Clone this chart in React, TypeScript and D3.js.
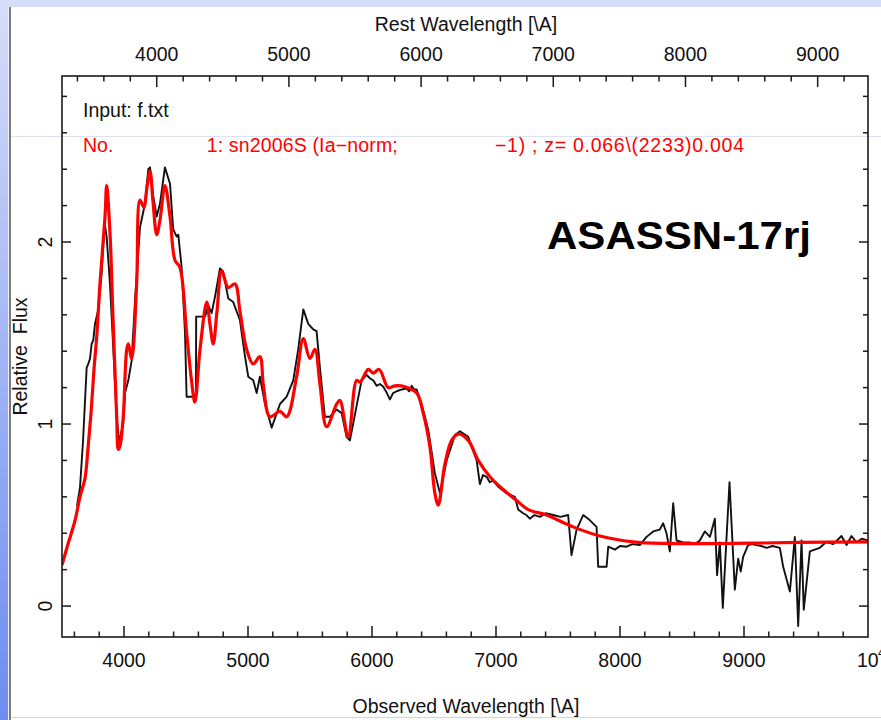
import React from 'react';
import * as d3 from 'd3';

const W = 881;
const H = 720;
const Z = 0.066;

const modelWave = [3500,3548,3605,3645,3685,3710,3734,3758,3782,3806,3847,3860,3887,3911,3941,3954,3968,3994,4022,4035,4062,4102,4129,4160,4185,4210,4234,4264,4290,4330,4371,4411,4451,4505,4546,4572,4613,4667,4693,4720,4750,4788,4841,4895,4935,4989,5042,5096,5123,5177,5258,5312,5392,5446,5499,5540,5580,5634,5715,5741,5808,5876,5903,5970,6010,6058,6131,6185,6265,6360,6413,6467,6507,6534,6588,6642,6695,6776,6857,6951,7058,7166,7260,7408,7622,7838,8104,8375,8912,9450,9998];
const modelFlux = [0.225,0.34,0.47,0.60,0.70,0.87,1.06,1.30,1.50,1.77,2.14,2.31,2.05,1.59,1.04,0.86,0.88,1.04,1.41,1.44,1.36,1.77,2.23,2.19,2.30,2.39,2.22,2.04,2.12,2.31,2.14,1.90,1.86,1.50,1.23,1.12,1.41,1.67,1.55,1.44,1.62,1.84,1.75,1.77,1.62,1.41,1.33,1.37,1.22,1.04,1.07,1.04,1.26,1.47,1.36,1.41,1.22,0.985,1.11,1.13,0.93,1.24,1.23,1.30,1.28,1.30,1.20,1.21,1.205,1.17,1.06,0.875,0.62,0.555,0.78,0.91,0.945,0.91,0.80,0.71,0.64,0.58,0.53,0.50,0.435,0.385,0.353,0.344,0.344,0.35,0.353];

const obsWave = [3621,3645,3669,3699,3712,3726,3739,3752,3766,3793,3820,3833,3847,3860,3887,3914,3941,3962,3994,4008,4035,4062,4089,4129,4169,4196,4210,4236,4264,4290,4330,4371,4397,4425,4438,4465,4492,4505,4580,4582,4653,4680,4707,4734,4774,4798,4841,4881,4935,4976,5002,5042,5070,5096,5137,5191,5258,5312,5365,5405,5446,5486,5526,5553,5580,5620,5661,5715,5755,5795,5822,5876,5916,5957,5985,6010,6037,6064,6091,6120,6144,6170,6199,6240,6279,6300,6320,6340,6360,6400,6453,6507,6548,6602,6669,6709,6776,6844,6870,6895,6924,6950,6977,7018,7085,7152,7179,7219,7245,7273,7310,7354,7400,7461,7520,7582,7609,7650,7703,7743,7811,7824,7892,7905,7959,8000,8053,8100,8160,8214,8268,8321,8348,8375,8402,8429,8456,8510,8563,8600,8644,8684,8725,8765,8783,8805,8829,8883,8926,8953,8974,8993,9033,9070,9101,9140,9182,9230,9289,9316,9370,9410,9437,9464,9482,9531,9570,9611,9665,9719,9786,9827,9867,9907,9950,9998];
const obsFlux = [0.55,0.65,0.90,1.31,1.33,1.36,1.44,1.46,1.55,1.63,1.83,1.99,2.09,2.03,1.77,1.41,1.04,0.895,1.01,1.17,1.24,1.35,1.68,2.08,2.21,2.40,2.41,2.25,2.14,2.21,2.41,2.32,2.07,2.03,2.04,1.86,1.50,1.15,1.15,1.59,1.59,1.65,1.61,1.70,1.855,1.84,1.69,1.67,1.57,1.37,1.26,1.24,1.17,1.26,1.11,0.98,1.11,1.15,1.24,1.41,1.63,1.55,1.52,1.51,1.31,1.04,1.04,1.08,1.06,0.93,0.91,1.10,1.24,1.27,1.25,1.24,1.21,1.22,1.205,1.17,1.135,1.17,1.18,1.19,1.195,1.18,1.21,1.19,1.19,1.11,0.97,0.73,0.62,0.80,0.94,0.96,0.93,0.80,0.67,0.72,0.71,0.68,0.69,0.655,0.62,0.60,0.53,0.51,0.50,0.48,0.50,0.49,0.51,0.50,0.49,0.50,0.28,0.42,0.50,0.48,0.435,0.216,0.216,0.326,0.31,0.33,0.326,0.34,0.335,0.38,0.41,0.42,0.455,0.40,0.30,0.565,0.36,0.35,0.35,0.34,0.36,0.41,0.38,0.48,0.17,0.35,-0.01,0.68,0.09,0.26,0.19,0.27,0.335,0.34,0.335,0.33,0.32,0.33,0.32,0.216,0.08,0.38,-0.11,0.36,-0.02,0.30,0.31,0.32,0.353,0.34,0.385,0.335,0.385,0.35,0.37,0.36];

const obsTicks = [4000, 5000, 6000, 7000, 8000, 9000];
const restTicks = [4000, 5000, 6000, 7000, 8000, 9000];
const fluxTicks = [0, 1, 2];

const FONT = "'Liberation Sans', Arial, Helvetica, sans-serif";

export default function App() {
  React.useEffect(() => {
    document.body.style.margin = '0';
  }, []);

  const L = 62, R = 868, T = 76, B = 637;
  const x = d3.scaleLinear().domain([3500, 10000]).range([L, R]);
  const y = d3.scaleLinear().domain([-0.17, 2.912]).range([B, T]);

  const modelLine = d3.line<number>()
    .x((_, i) => x(modelWave[i]))
    .y((d) => y(d))
    .curve(d3.curveCatmullRom.alpha(0.5));
  const obsLine = d3.line<number>()
    .x((_, i) => x(obsWave[i]))
    .y((d) => y(d));

  const obsMinor = d3.range(3600, 10000, 200).filter((v) => v % 1000 !== 0);
  const restMinor = d3.range(3400, 9400, 200).filter((v) => v % 1000 !== 0 && v * (1 + Z) <= 10000 && v * (1 + Z) >= 3500);
  const fluxMinor = d3.range(0, 2.9, 0.2).filter((v) => Math.abs(v - Math.round(v)) > 0.01);

  const axisColor = '#1a1a1a';
  const tickW = 1.5;

  return (
    <svg width={W} height={H} style={{ position: 'absolute', left: 0, top: 0, display: 'block' }} fontFamily={FONT}>
      <defs>
        <linearGradient id="strip" x1="0" y1="0" x2="0" y2="1">
          <stop offset="0" stopColor="#d6ddf9" />
          <stop offset="1" stopColor="#6c8cf0" />
        </linearGradient>
        <clipPath id="plotclip">
          <rect x={L} y={T} width={R - L} height={B - T} />
        </clipPath>
      </defs>
      <rect x={0} y={0} width={W} height={H} fill="#ffffff" />
      <rect x={0} y={0} width={W} height={7} fill="#d6ddf9" />
      <rect x={0} y={0} width={8} height={H} fill="url(#strip)" />
      <rect x={8} y={7} width={1} height={H - 7} fill="#eef1fb" />
      <rect x={9} y={7} width={2} height={H - 7} fill="#7a7a7a" />
      <line x1={11} x2={W} y1={136.5} y2={136.5} stroke="#dbe2f6" strokeWidth={1} />
      <line x1={11} x2={W} y1={717.5} y2={717.5} stroke="#d4d4d4" strokeWidth={1} />

      {/* data */}
      <g clipPath="url(#plotclip)">
        <path d={obsLine(obsFlux) || ''} fill="none" stroke="#111" strokeWidth={1.9} strokeLinejoin="round" />
        <path d={modelLine(modelFlux) || ''} fill="none" stroke="#ff0000" strokeWidth={3.2} strokeLinejoin="round" />
      </g>

      {/* frame */}
      <rect x={L} y={T} width={R - L} height={B - T} fill="none" stroke={axisColor} strokeWidth={1.6} />

      {/* bottom ticks */}
      {obsTicks.map((v) => (
        <line key={'bM' + v} x1={x(v)} x2={x(v)} y1={B} y2={B - 11} stroke={axisColor} strokeWidth={tickW} />
      ))}
      {obsMinor.map((v) => (
        <line key={'bm' + v} x1={x(v)} x2={x(v)} y1={B} y2={B - 5.5} stroke={axisColor} strokeWidth={tickW} />
      ))}
      {/* top ticks (rest) */}
      {restTicks.map((v) => (
        <line key={'tM' + v} x1={x(v * (1 + Z))} x2={x(v * (1 + Z))} y1={T} y2={T + 11} stroke={axisColor} strokeWidth={tickW} />
      ))}
      {restMinor.map((v) => (
        <line key={'tm' + v} x1={x(v * (1 + Z))} x2={x(v * (1 + Z))} y1={T} y2={T + 5.5} stroke={axisColor} strokeWidth={tickW} />
      ))}
      {/* left / right ticks */}
      {fluxTicks.map((v) => (
        <g key={'yM' + v}>
          <line x1={L} x2={L + 9} y1={y(v)} y2={y(v)} stroke={axisColor} strokeWidth={tickW} />
          <line x1={R} x2={R - 9} y1={y(v)} y2={y(v)} stroke={axisColor} strokeWidth={tickW} />
        </g>
      ))}
      {fluxMinor.map((v) => (
        <g key={'ym' + v.toFixed(1)}>
          <line x1={L} x2={L + 5} y1={y(v)} y2={y(v)} stroke={axisColor} strokeWidth={tickW} />
          <line x1={R} x2={R - 5} y1={y(v)} y2={y(v)} stroke={axisColor} strokeWidth={tickW} />
        </g>
      ))}

      {/* tick labels */}
      {obsTicks.map((v) => (
        <text key={'bl' + v} x={x(v)} y={667} textAnchor="middle" fontSize={19.5} fill="#111">{v}</text>
      ))}
      <text x={x(10000) - 11} y={667} fontSize={19.5} fill="#111">10</text>
      <text x={x(10000) + 10} y={657} fontSize={12} fill="#111">4</text>
      {restTicks.map((v) => (
        <text key={'tl' + v} x={x(v * (1 + Z))} y={60.5} textAnchor="middle" fontSize={19.5} fill="#111">{v}</text>
      ))}
      {fluxTicks.map((v) => (
        <text key={'yl' + v} transform={`translate(45,${y(v)}) rotate(-90)`} textAnchor="middle" dominantBaseline="central" fontSize={19.5} fill="#111">{v}</text>
      ))}

      {/* axis titles */}
      <text x={466} y={30.5} textAnchor="middle" fontSize={19.5} fill="#111">Rest Wavelength [\A]</text>
      <text x={466} y={713} textAnchor="middle" fontSize={19.5} fill="#111">Observed Wavelength [\A]</text>
      <text transform={`translate(20,${(T + B) / 2}) rotate(-90)`} textAnchor="middle" dominantBaseline="central" fontSize={19.5} fill="#111" style={{ whiteSpace: 'pre' }}>Relative  Flux</text>

      {/* annotations */}
      <text x={83} y={117} fontSize={19.5} fill="#111">Input: f.txt</text>
      <text x={83} y={151.5} fontSize={19.5} fill="#ff0000">No.</text>
      <text x={206.7} y={151.5} fontSize={19.5} fill="#ff0000" textLength={191}>1: sn2006S (Ia−norm;</text>
      <text x={495} y={151.5} fontSize={19.5} fill="#ff0000" textLength={249}>−1) ; z= 0.066\(2233)0.004</text>

      <text x={547} y={249} fontSize={38} fontWeight="bold" fill="#000" textLength={264} lengthAdjust="spacingAndGlyphs" fontFamily="Arial, 'Liberation Sans', sans-serif">ASASSN-17rj</text>
    </svg>
  );
}
